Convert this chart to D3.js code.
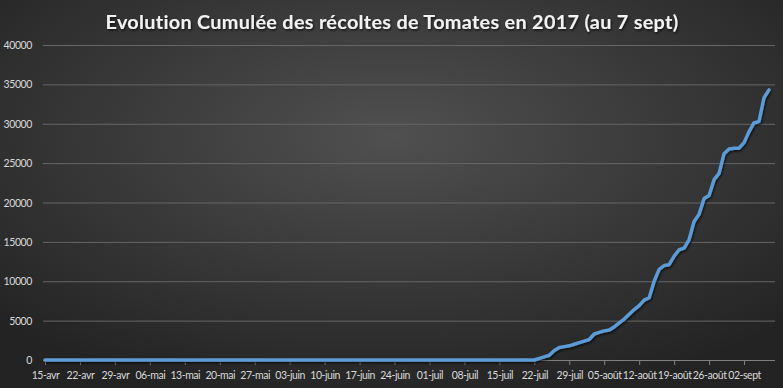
<!DOCTYPE html>
<html>
    <head>
        <meta charset="utf-8"/>
        <script src="https://cdnjs.cloudflare.com/ajax/libs/d3/7.8.5/d3.min.js"></script>
        <style>
            body { margin: 0; background: #2b2b2b; }
            svg { display: block; }
        </style>
    </head>
    <body>
        <script>
            // cumulative tomato harvest (g)
            const harvestDates = [
                "2017-04-15", "2017-07-22", "2017-07-23", "2017-07-24", "2017-07-25", "2017-07-26",
                "2017-07-27", "2017-07-28", "2017-07-29", "2017-07-30", "2017-07-31", "2017-08-01",
                "2017-08-02", "2017-08-03", "2017-08-04", "2017-08-05", "2017-08-06", "2017-08-07",
                "2017-08-08", "2017-08-09", "2017-08-10", "2017-08-11", "2017-08-12", "2017-08-13",
                "2017-08-14", "2017-08-15", "2017-08-16", "2017-08-17", "2017-08-18", "2017-08-19",
                "2017-08-20", "2017-08-21", "2017-08-22", "2017-08-23", "2017-08-24", "2017-08-25",
                "2017-08-26", "2017-08-27", "2017-08-28", "2017-08-29", "2017-08-30", "2017-08-31",
                "2017-09-01", "2017-09-02", "2017-09-03", "2017-09-04", "2017-09-05", "2017-09-06",
                "2017-09-07"
            ];
            const harvestCumul = [
                0, 0, 200, 400, 600, 1200,
                1600, 1700, 1800, 2000, 2200, 2400,
                2600, 3300, 3500, 3700, 3800, 4200,
                4700, 5200, 5800, 6400, 6900, 7600,
                7900, 10000, 11500, 12000, 12100, 13200,
                14000, 14200, 15300, 17600, 18500, 20500,
                20900, 22900, 23700, 26200, 26800, 26900,
                26900, 27600, 29000, 30100, 30300, 33300,
                34300
            ];
            const yTicks = [0, 5000, 10000, 15000, 20000, 25000, 30000, 35000, 40000];
            const shortMonths = ["janv", "févr", "mars", "avr", "mai", "juin", "juil", "août", "sept", "oct", "nov", "déc"];
            const titleText = "Evolution Cumulée des récoltes de Tomates en 2017 (au 7 sept)";

            const width = 783, height = 388;
            const parse = d3.timeParse("%Y-%m-%d");
            const data = harvestDates.map((d, i) => ({date: parse(d), value: harvestCumul[i]}));

            const locale = d3.timeFormatLocale({
                dateTime: "%A %e %B %Y à %X", date: "%d/%m/%Y", time: "%H:%M:%S",
                periods: ["AM", "PM"],
                days: ["dimanche", "lundi", "mardi", "mercredi", "jeudi", "vendredi", "samedi"],
                shortDays: ["dim", "lun", "mar", "mer", "jeu", "ven", "sam"],
                months: ["janvier", "février", "mars", "avril", "mai", "juin", "juillet", "août", "septembre", "octobre", "novembre", "décembre"],
                shortMonths: shortMonths
            });
            const fmt = locale.format("%d-%b");
            const font = "Lato, 'Liberation Sans', sans-serif";

            const svg = d3.select("body").append("svg")
                .attr("width", width).attr("height", height);

            const defs = svg.append("defs");
            const grad = defs.append("radialGradient").attr("id", "bg")
                .attr("cx", "50%").attr("cy", "35%").attr("r", "70%");
            grad.append("stop").attr("offset", "0%").attr("stop-color", "#505050");
            grad.append("stop").attr("offset", "100%").attr("stop-color", "#232323");

            const shadow = defs.append("filter").attr("id", "shadow")
                .attr("x", "-5%").attr("y", "-5%").attr("width", "110%").attr("height", "110%");
            shadow.append("feDropShadow").attr("dx", 1).attr("dy", 1.5).attr("stdDeviation", 1.2)
                .attr("flood-color", "#000").attr("flood-opacity", 0.7);

            svg.append("rect").attr("width", width).attr("height", height).attr("fill", "url(#bg)");

            const x = d3.scaleTime()
                .domain([parse("2017-04-15"), parse("2017-09-07")])
                .range([45, 769]);
            const y = d3.scaleLinear().domain([0, 40000]).range([360, 45]);

            // gridlines
            svg.append("g").selectAll("line")
                .data(yTicks.filter(d => d > 0))
                .join("line")
                .attr("x1", 43).attr("x2", 775)
                .attr("y1", d => y(d) + 0.5).attr("y2", d => y(d) + 0.5)
                .attr("stroke", "#666").attr("stroke-width", 1);

            // y labels
            svg.append("g")
                .attr("font-family", font)
                .attr("font-size", 10.5)
                .attr("letter-spacing", -0.4)
                .attr("fill", "#d9d9d9")
                .attr("text-anchor", "end")
                .selectAll("text")
                .data(yTicks)
                .join("text")
                .attr("x", 32)
                .attr("y", d => y(d) + 4)
                .text(d => d);

            // x axis
            const xTicks = d3.timeSaturday.range(parse("2017-04-15"), parse("2017-09-03"));
            const xAxis = svg.append("g")
                .attr("transform", "translate(0,360)")
                .call(d3.axisBottom(x).tickValues(xTicks).tickFormat(fmt).tickSize(5).tickPadding(7));
            xAxis.select(".domain").attr("stroke", "#808080").attr("d", "M43,0.5H775");
            xAxis.selectAll(".tick line").attr("stroke", "#808080");
            xAxis.selectAll(".tick text")
                .attr("fill", "#d9d9d9")
                .attr("font-family", font)
                .attr("font-size", 10.5)
                .attr("letter-spacing", -0.45);

            // line
            const line = d3.line().x(d => x(d.date)).y(d => y(d.value));
            svg.append("path")
                .datum(data)
                .attr("d", line)
                .attr("fill", "none")
                .attr("stroke", "#5b9bd5")
                .attr("stroke-width", 3.5)
                .attr("stroke-linejoin", "round")
                .attr("stroke-linecap", "round")
                .attr("filter", "url(#shadow)");

            // title
            const title = svg.append("text")
                .attr("x", 392).attr("y", 29)
                .attr("text-anchor", "middle")
                .attr("font-family", font)
                .attr("font-weight", "bold")
                .attr("font-size", 19)
                .attr("fill", "#f2f2f2")
                .attr("letter-spacing", 0.3)
                .attr("filter", "url(#shadow)")
                .text(titleText);
            const tw = title.node().getComputedTextLength();
            title.attr("font-size", 19 * 574 / tw);
        </script>
    </body>
</html>
